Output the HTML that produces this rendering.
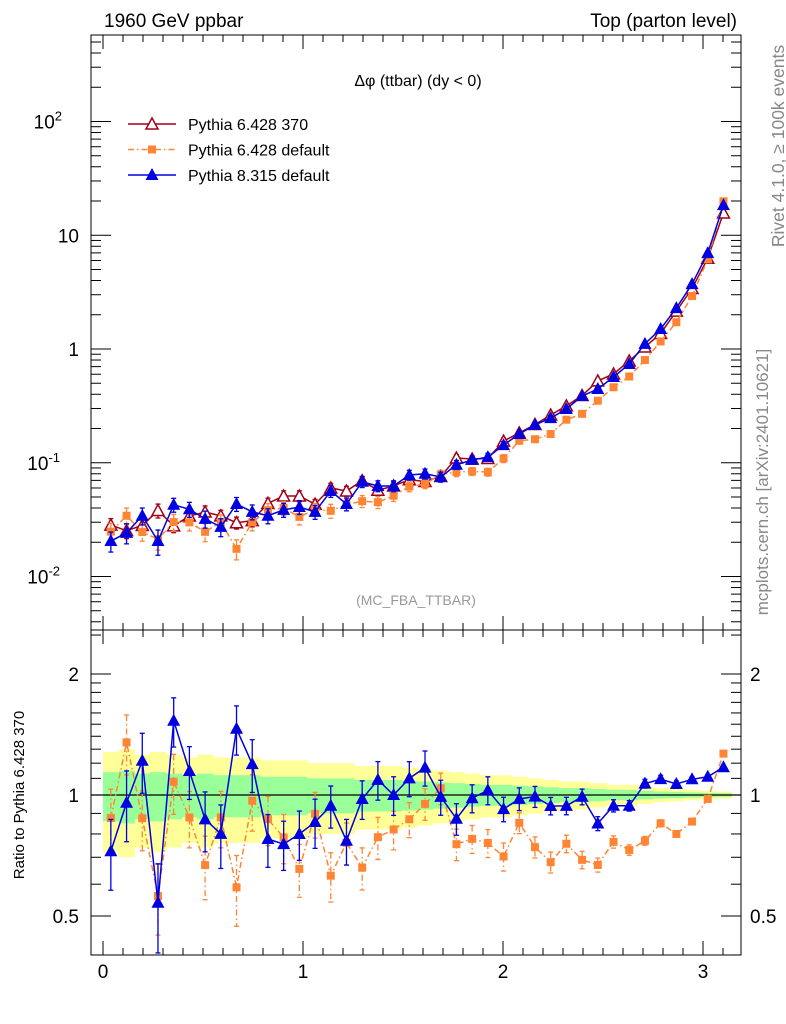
<!DOCTYPE html>
<html><head><meta charset="utf-8"><style>
body{margin:0;background:#fff;}
svg{display:block;font-family:"Liberation Sans",sans-serif;}
</style></head><body>
<svg id="chart" width="786" height="1024" viewBox="0 0 786 1024"></svg>
<script>
const binCenters=[];for(let i=0;i<40;i++)binCenters.push((i+0.5)*Math.PI/40);
const red=[0.0283,0.0253,0.0281,0.038,0.0279,0.034,0.0369,0.0341,0.0297,0.031,0.044,0.051,0.051,0.0432,0.060,0.0564,0.0696,0.0573,0.0625,0.0709,0.0684,0.0758,0.110,0.108,0.109,0.155,0.183,0.217,0.263,0.316,0.39,0.524,0.603,0.785,1.04,1.37,2.15,3.40,6.28,15.7];
const blue=[0.0205,0.0242,0.0342,0.0205,0.0427,0.039,0.0321,0.0273,0.0434,0.037,0.0342,0.0385,0.0408,0.037,0.0564,0.0434,0.068,0.0625,0.0625,0.078,0.080,0.075,0.096,0.106,0.112,0.143,0.179,0.215,0.247,0.297,0.386,0.445,0.567,0.738,1.11,1.5,2.29,3.72,6.97,18.4];
const orange=[0.0248,0.0342,0.0246,0.0213,0.0301,0.0299,0.0247,0.030,0.0175,0.030,0.0383,0.040,0.0334,0.0388,0.0378,0.0429,0.0459,0.045,0.0513,0.0617,0.065,0.0788,0.083,0.084,0.0828,0.109,0.156,0.161,0.179,0.239,0.269,0.351,0.461,0.573,0.80,1.165,1.72,2.92,6.14,19.9];
const redErr=[0.14,0.15,0.13,0.14,0.13,0.12,0.13,0.12,0.12,0.12,0.11,0.11,0.11,0.10,0.10,0.10,0.09,0.09,0.09,0.085,0.08,0.075,0.07,0.065,0.06,0.06,0.055,0.05,0.045,0.04,0.04,0.035,0.03,0.03,0.025,0.02,0.018,0.015,0.012,0.01];
const blueErr=[0.2,0.2,0.17,0.25,0.14,0.15,0.17,0.18,0.14,0.15,0.15,0.14,0.14,0.14,0.12,0.13,0.11,0.11,0.11,0.1,0.1,0.1,0.09,0.08,0.08,0.07,0.065,0.06,0.05,0.05,0.045,0.04,0.035,0.03,0.025,0.022,0.018,0.015,0.012,0.01];
const orangeErr=[0.18,0.17,0.17,0.2,0.17,0.16,0.18,0.16,0.2,0.16,0.14,0.14,0.15,0.13,0.14,0.12,0.12,0.12,0.11,0.1,0.09,0.09,0.09,0.08,0.08,0.08,0.06,0.06,0.06,0.05,0.05,0.04,0.035,0.03,0.025,0.02,0.018,0.015,0.012,0.01];
const xTicks=[0,1,2,3];
const mainTickLabels=["10","10","1","10","10"];

const NS="http://www.w3.org/2000/svg";
const svg=document.getElementById('chart');
function el(tag,attrs,parent){const e=document.createElementNS(NS,tag);for(const k in attrs)e.setAttribute(k,attrs[k]);(parent||svg).appendChild(e);return e;}
const L=91,R=741,T=35,MB=630,B=955;
const X=v=>103+200*v;
const Ym=v=>349-113.75*Math.log10(v);
const Yr=r=>795-402*Math.log10(r);
const hw=Math.PI/80*200;

const bands=el('g',{});


for(let i=0;i<40;i++){
  const x0=X(binCenters[i])-hw,w=2*hw+0.5;
  const y1=Yr(1+2*redErr[i]),y2=Yr(Math.max(0.05,1-2*redErr[i]));
  const r1=el('rect',{x:x0,y:y1,width:w,height:y2-y1,fill:'#ffff99'},bands);
  
  
}
for(let i=0;i<40;i++){
  const x0=X(binCenters[i])-hw,w=2*hw+0.5;
  const y1=Yr(1+redErr[i]),y2=Yr(1-redErr[i]);
  const r2=el('rect',{x:x0,y:y1,width:w,height:y2-y1,fill:'#99ff99'},bands);
  
  
}
el('line',{x1:L,x2:R,y1:Yr(1),y2:Yr(1),stroke:'#000','stroke-width':1.3});

const f1=el('rect',{x:L,y:T,width:R-L,height:MB-T,fill:'none',stroke:'#000','stroke-width':1});

const f2=el('rect',{x:L,y:MB,width:R-L,height:B-MB,fill:'none',stroke:'#000','stroke-width':1});


for(let d=-3;d<=2;d++){for(let m=1;m<10;m++){const v=m*Math.pow(10,d);const y=Ym(v);if(y<T||y>MB)continue;const len=m==1?20:10;
 el('line',{x1:L,x2:L+len,y1:y,y2:y,stroke:'#000'});el('line',{x1:R,x2:R-len,y1:y,y2:y,stroke:'#000'});}}
[0.4,0.5,0.6,0.7,0.8,0.9,1,1.1,1.2,1.3,1.4,1.5,1.6,1.7,1.8,1.9,2,2.5].forEach(v=>{const y=Yr(v);if(y<MB||y>B)return;const len=(v==0.5||v==1||v==2)?20:10;
 el('line',{x1:L,x2:L+len,y1:y,y2:y,stroke:'#000'});el('line',{x1:R,x2:R-len,y1:y,y2:y,stroke:'#000'});});
for(let k=0;k<=31;k++){const v=k/10;const x=X(v);if(x<L||x>R)continue;const maj=k%10==0;const len=maj?14:7;
 el('line',{x1:x,x2:x,y1:MB,y2:MB-len,stroke:'#000'});el('line',{x1:x,x2:x,y1:T,y2:T+len,stroke:'#000'});
 el('line',{x1:x,x2:x,y1:MB,y2:MB+len,stroke:'#000'});el('line',{x1:x,x2:x,y1:B,y2:B-len,stroke:'#000'});}

function txt(s,attrs,name){const t=el('text',attrs);t.textContent=s;return t;}
xTicks.forEach(v=>{txt(String(v),{x:X(v),y:978,'font-size':19,'text-anchor':'middle'},'x-tick-label');});
const decs=[2,1,0,-1,-2];
decs.forEach((d,i)=>{const y=Ym(Math.pow(10,d))+7;const t=txt(mainTickLabels[i],{x:d<0?67:(d==2?67:79),y:y,'font-size':19,'text-anchor':'end'},'y-tick-label');
 if(d==2||d<0){const s=el('tspan',{dy:-8,'font-size':13},t);s.textContent=String(d);t.setAttribute('x',d<0?60:62);}});
[[2,'2'],[1,'1'],[0.5,'0.5']].forEach(([v,s])=>{txt(s,{x:79,y:Yr(v)+7,'font-size':19,'text-anchor':'end'},'ratio-tick-label');txt(s,{x:750,y:Yr(v)+7,'font-size':19},'ratio-tick-label-right');});

txt('1960 GeV ppbar',{x:104,y:27,'font-size':19},'collision-label');
txt('Top (parton level)',{x:737,y:27,'font-size':19,'text-anchor':'end'},'process-label');
txt('Δφ (ttbar) (dy < 0)',{x:418,y:86,'font-size':16,'text-anchor':'middle'},'plot-title');
txt('(MC_FBA_TTBAR)',{x:416,y:605,'font-size':14,'text-anchor':'middle',fill:'#999'},'analysis-label');
txt('Rivet 4.1.0, ≥ 100k events',{x:0,y:0,'font-size':17.5,fill:'#888','text-anchor':'middle',transform:'translate(784,146) rotate(-90)'},'rivet-label');
txt('mcplots.cern.ch [arXiv:2401.10621]',{x:0,y:0,'font-size':17,fill:'#888','text-anchor':'middle',transform:'translate(768,482) rotate(-90)'},'mcplots-label');
txt('Ratio to Pythia 6.428 370',{x:0,y:0,'font-size':15,'text-anchor':'middle',transform:'translate(24,795) rotate(-90)'},'ratio-y-axis-title');

function drawSeries(vals,errs,yf,color,dash,marker,name,refvals){
 const g=el('g',{});
 const val=i=>refvals?vals[i]/refvals[i]:vals[i];
 const pts=binCenters.map((c,i)=>X(c)+','+yf(val(i))).join(' ');
 const pl=el('polyline',{points:pts,fill:'none',stroke:color,'stroke-width':1.5,'stroke-dasharray':dash||''},g);
 
 binCenters.forEach((c,i)=>{const x=X(c),v=val(i),y=yf(v);
  const yu=yf(v*(1+errs[i])),yd=yf(v*(1-errs[i]));
  el('line',{x1:x,x2:x,y1:yu,y2:yd,stroke:color,'stroke-width':1.3,'stroke-dasharray':dash||''},g);
  el('line',{x1:x-2.5,x2:x+2.5,y1:yu,y2:yu,stroke:color,'stroke-width':1.3},g);
  el('line',{x1:x-2.5,x2:x+2.5,y1:yd,y2:yd,stroke:color,'stroke-width':1.3},g);
  let m;
  if(marker=='sq'){m=el('rect',{x:x-4,y:y-4,width:8,height:8,fill:color},g);}
  else if(marker=='otri'){m=el('polygon',{points:`${x},${y-6} ${x-6},${y+5} ${x+6},${y+5}`,fill:'#fff',stroke:color,'stroke-width':1.5},g);}
  else {m=el('polygon',{points:`${x},${y-7} ${x-6.5},${y+5} ${x+6.5},${y+5}`,fill:color},g);}
  
  
 });
}
drawSeries(red,redErr,Ym,'#a00018','','otri','pythia6-370-series');
drawSeries(orange,orangeErr,Ym,'#ff8534','6,3,1.5,3','sq','pythia6-default-series');
drawSeries(blue,blueErr,Ym,'#0000e0','','tri','pythia8-default-series');
drawSeries(orange,orangeErr,Yr,'#ff8534','6,3,1.5,3','sq','ratio-pythia6-default',red);
drawSeries(blue,blueErr,Yr,'#0000e0','','tri','ratio-pythia8-default',red);

const leg=[['Pythia 6.428 370','#a00018','','otri'],['Pythia 6.428 default','#ff8534','6,3,1.5,3','sq'],['Pythia 8.315 default','#0000e0','','tri']];
leg.forEach((e,i)=>{const y=124+i*25.5;const g=el('g',{});
 el('line',{x1:128,x2:176,y1:y,y2:y,stroke:e[1],'stroke-width':1.5,'stroke-dasharray':e[2]},g);
 const x=152;
 if(e[3]=='sq')el('rect',{x:x-4,y:y-4,width:8,height:8,fill:e[1]},g);
 else if(e[3]=='otri')el('polygon',{points:`${x},${y-6} ${x-6},${y+5} ${x+6},${y+5}`,fill:'#fff',stroke:e[1],'stroke-width':1.5},g);
 else el('polygon',{points:`${x},${y-7} ${x-6.5},${y+5} ${x+6.5},${y+5}`,fill:e[1]},g);
 const t=el('text',{x:188,y:y+6,'font-size':16},g);t.textContent=e[0];
});
</script>
</body></html>
